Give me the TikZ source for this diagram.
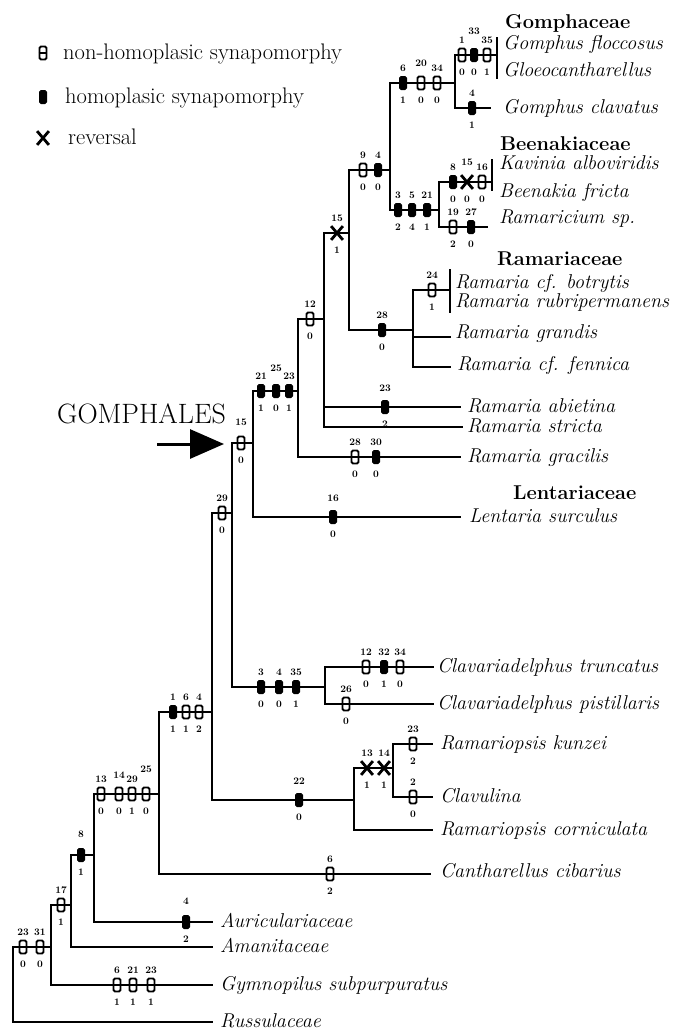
\documentclass[tikz,border=0pt]{standalone}
\usetikzlibrary{arrows.meta,shapes.misc}
\begin{document}
\begin{tikzpicture}[x=1pt,y=-1pt,
  br/.style={line width=2.4pt,line cap=rect,line join=miter},
  syn/.style={draw,fill=black,line width=1pt,rounded corners=1.5pt,minimum width=7pt,minimum height=13pt,inner sep=0pt},
  hom/.style={draw,line width=1.8pt,rounded corners=1.5pt,minimum width=7pt,minimum height=13pt,inner sep=0pt},
  rev/.style={draw,cross out,line width=2.8pt,minimum width=9pt,minimum height=11pt,inner sep=0pt},
  num/.style={font=\fontsize{10}{10}\selectfont\bfseries,inner sep=0pt},
  taxon/.style={anchor=base west,inner sep=0pt,font=\fontsize{20}{24}\selectfont\itshape},
  family/.style={anchor=base west,inner sep=0pt,font=\fontsize{20}{24}\selectfont\bfseries},
  legtext/.style={anchor=base west,inner sep=0pt,font=\fontsize{22.5}{24}\selectfont}]
\useasboundingbox (0,0) rectangle (673,1034);

% character state change: [extra raise of number] name style x y number state
\newcommand\chr[7][0]{%
  \node[#3] (#2) at (#4,#5) {};
  \node[num] (#2-n) at (#4,{#5-15-#1}) {#6};
  \node[num] (#2-s) at (#4,{#5+17}) {#7};}

% ---------- legend ----------
\node[hom] (lg1) at (43,53) {};
\draw[line width=1.8pt] (lg1.west) -- (lg1.east);
\node[legtext] (lt1) at (63,59) {non-homoplasic synapomorphy};
\node[syn] (lg2) at (43,97) {};
\node[legtext] (lt2) at (65,103) {homoplasic synapomorphy};
\node[rev] (lg3) at (43,138) {};
\node[legtext] (lt3) at (68,144) {reversal};

% ---------- internal nodes (vertical line x, stem y) ----------
\coordinate (root) at (13,947);
\coordinate (n51)  at (51,947);
\coordinate (n71)  at (71,905);
\coordinate (n94)  at (94,855);
\coordinate (n159) at (159,794);
\coordinate (n212) at (212,712);
\coordinate (n232) at (232,513);
\coordinate (n253) at (253,443);
\coordinate (n298) at (298,391);
\coordinate (n324) at (324,319);
\coordinate (n349) at (349,233);
\coordinate (n390) at (390,170);
\coordinate (n455) at (455,83);
\coordinate (n439) at (439,210);
\coordinate (n413) at (413,330);
\coordinate (n325) at (325,687);
\coordinate (n354) at (354,800);
\coordinate (n393) at (393,768);

% ---------- branch ends ----------
\coordinate (eGom)  at (497,55);
\coordinate (eClav) at (490,108);
\coordinate (eKav)  at (492,182);
\coordinate (eRic)  at (487,227);
\coordinate (eBot)  at (450,290);
\coordinate (eGra)  at (450,337);
\coordinate (eFen)  at (450,367);
\coordinate (eAbi)  at (460,407);
\coordinate (eStr)  at (462,427);
\coordinate (eGrc)  at (460,457);
\coordinate (eLen)  at (460,517);
\coordinate (eTru)  at (433,667);
\coordinate (ePis)  at (433,704);
\coordinate (eKun)  at (432,744);
\coordinate (eCvl)  at (432,797);
\coordinate (eCor)  at (432,830);
\coordinate (eCan)  at (430,874);
\coordinate (eAur)  at (212,922);
\coordinate (eAma)  at (212,947);
\coordinate (eGym)  at (212,985);
\coordinate (eRus)  at (212,1022);

% brackets for paired terminals
\coordinate (bGt) at (497,38);  \coordinate (bGb) at (497,78);
\coordinate (bKt) at (492,160); \coordinate (bKb) at (492,190);
\coordinate (bRt) at (450,270); \coordinate (bRb) at (450,312);

% ---------- branches ----------
\draw[br] (root) |- (n51);  \draw[br] (root) |- (eRus);
\draw[br] (n51) |- (n71);   \draw[br] (n51) |- (eGym);
\draw[br] (n71) |- (n94);   \draw[br] (n71) |- (eAma);
\draw[br] (n94) |- (n159);  \draw[br] (n94) |- (eAur);
\draw[br] (n159) |- (n212); \draw[br] (n159) |- (eCan);
\draw[br] (n212) |- (n232); \draw[br] (n212) |- (n354);
\draw[br] (n354) |- (n393); \draw[br] (n354) |- (eCor);
\draw[br] (n393) |- (eKun); \draw[br] (n393) |- (eCvl);
\draw[br] (n232) |- (n253); \draw[br] (n232) |- (n325);
\draw[br] (n325) |- (eTru); \draw[br] (n325) |- (ePis);
\draw[br] (n253) |- (n298); \draw[br] (n253) |- (eLen);
\draw[br] (n298) |- (n324); \draw[br] (n298) |- (eGrc);
\draw[br] (n324) |- (n349); \draw[br] (n324) |- (eAbi); \draw[br] (n324) |- (eStr);
\draw[br] (n349) |- (n390); \draw[br] (n349) |- (n413);
\draw[br] (n413) |- (eBot); \draw[br] (n413) |- (eGra); \draw[br] (n413) |- (eFen);
\draw[br] (n390) |- (n455); \draw[br] (n390) |- (n439);
\draw[br] (n455) |- (eGom); \draw[br] (n455) |- (eClav);
\draw[br] (n439) |- (eKav); \draw[br] (n439) |- (eRic);
\draw[br] (bGt) -- (bGb);
\draw[br] (bKt) -- (bKb);
\draw[br] (bRt) -- (bRb);

% ---------- character changes ----------
\chr{c1}{hom}{462}{55}{1}{0}
\chr[9]{c2}{syn}{474}{55}{33}{0}
\chr{c3}{hom}{487}{55}{35}{1}
\chr{c4}{syn}{472}{108}{4}{1}
\chr{c5}{syn}{403}{83}{6}{1}
\chr[5]{c6}{hom}{421}{83}{20}{0}
\chr{c7}{hom}{437}{83}{34}{0}
\chr{c8}{hom}{363}{170}{9}{0}
\chr{c9}{syn}{378}{170}{4}{0}
\chr{c10}{syn}{398}{210}{3}{2}
\chr{c11}{syn}{412}{210}{5}{4}
\chr{c12}{syn}{427}{210}{21}{1}
\chr{c13}{syn}{453}{182}{8}{0}
\chr[5]{c14}{rev}{467}{182}{15}{0}
\chr{c15}{hom}{482}{182}{16}{0}
\chr{c16}{hom}{453}{227}{19}{2}
\chr{c17}{syn}{471}{227}{27}{0}
\chr{c18}{rev}{337}{233}{15}{1}
\chr{c19}{syn}{382}{330}{28}{0}
\chr{c20}{hom}{432}{290}{24}{1}
\chr{c21}{hom}{310}{319}{12}{0}
\chr[4]{c22}{syn}{385}{407}{23}{2}
\chr{c23}{syn}{261}{391}{21}{1}
\chr[8]{c24}{syn}{276}{391}{25}{0}
\chr{c25}{syn}{289}{391}{23}{1}
\chr{c26}{hom}{355}{457}{28}{0}
\chr{c27}{syn}{376}{457}{30}{0}
\chr[6]{c28}{hom}{241}{443}{15}{0}
\chr[4]{c29}{syn}{333}{517}{16}{0}
\chr{c30}{hom}{222}{513}{29}{0}
\chr{c31}{syn}{261}{687}{3}{0}
\chr{c32}{syn}{279}{687}{4}{0}
\chr{c33}{syn}{296}{687}{35}{1}
\chr{c34}{hom}{366}{667}{12}{0}
\chr{c35}{syn}{384}{667}{32}{1}
\chr{c36}{hom}{400}{667}{34}{0}
\chr{c37}{hom}{346}{704}{26}{0}
\chr{c38}{syn}{173}{712}{1}{1}
\chr{c39}{hom}{186}{712}{6}{1}
\chr{c40}{hom}{199}{712}{4}{2}
\chr[4]{c41}{syn}{299}{800}{22}{0}
\chr{c42}{rev}{367}{768}{13}{1}
\chr{c43}{rev}{384}{768}{14}{1}
\chr{c44}{hom}{413}{744}{23}{2}
\chr{c45}{hom}{413}{797}{2}{0}
\chr{c46}{hom}{101}{794}{13}{0}
\chr[4]{c47}{hom}{119}{794}{14}{0}
\chr{c48}{hom}{132}{794}{29}{1}
\chr[10]{c49}{hom}{146}{794}{25}{0}
\chr{c50}{hom}{330}{874}{6}{2}
\chr[6]{c51}{syn}{81}{855}{8}{1}
\chr[6]{c52}{syn}{186}{922}{4}{2}
\chr{c53}{hom}{61}{905}{17}{1}
\chr{c54}{hom}{117}{985}{6}{1}
\chr{c55}{hom}{133}{985}{21}{1}
\chr{c56}{hom}{151}{985}{23}{1}
\chr{c57}{hom}{23}{947}{23}{0}
\chr{c58}{hom}{40}{947}{31}{0}

% ---------- GOMPHALES arrow ----------
\coordinate (gA) at (157,444);
\coordinate (gB) at (224,444);
\draw[line width=3pt,-{Triangle[length=34pt,width=29pt]}] (gA) -- (gB);
\node[anchor=base west,inner sep=0pt,font=\fontsize{28}{32}\selectfont] (gom) at (57,423) {GOMPHALES};

% ---------- family headings ----------
\node[family] (fGom) at (505,28) {Gomphaceae};
\node[family] (fBee) at (500,150) {Beenakiaceae};
\node[family] (fRam) at (497,265) {Ramariaceae};
\node[family] (fLen) at (513,499) {Lentariaceae};

% ---------- terminal taxa ----------
\node[taxon] (tGfl) at (503,49) {Gomphus floccosus};
\node[taxon] (tGlo) at (503,76) {Gloeocantharellus};
\node[taxon] (tGcl) at (503,113) {Gomphus clavatus};
\node[taxon] (tKav) at (499,169) {Kavinia alboviridis};
\node[taxon] (tBee) at (499,197) {Beenakia fricta};
\node[taxon] (tRic) at (499,223) {Ramaricium sp.};
\node[taxon] (tBot) at (455,288) {Ramaria cf. botrytis};
\node[taxon] (tRub) at (455,307) {Ramaria rubripermanens};
\node[taxon] (tGra) at (455,338) {Ramaria grandis};
\node[taxon] (tFen) at (457,370) {Ramaria cf. fennica};
\node[taxon] (tAbi) at (467,412) {Ramaria abietina};
\node[taxon] (tStr) at (467,432) {Ramaria stricta};
\node[taxon] (tGrc) at (467,462) {Ramaria gracilis};
\node[taxon] (tLen) at (469,522) {Lentaria surculus};
\node[taxon] (tTru) at (437,672) {Clavariadelphus truncatus};
\node[taxon] (tPis) at (437,709) {Clavariadelphus pistillaris};
\node[taxon] (tKun) at (440,749) {Ramariopsis kunzei};
\node[taxon] (tCvl) at (440,802) {Clavulina};
\node[taxon] (tCor) at (440,835) {Ramariopsis corniculata};
\node[taxon] (tCan) at (440,877) {Cantharellus cibarius};
\node[taxon] (tAur) at (220,927) {Auriculariaceae};
\node[taxon] (tAma) at (220,952) {Amanitaceae};
\node[taxon] (tGym) at (220,990) {Gymnopilus subpurpuratus};
\node[taxon] (tRus) at (220,1027) {Russulaceae};
\end{tikzpicture}
\end{document}
